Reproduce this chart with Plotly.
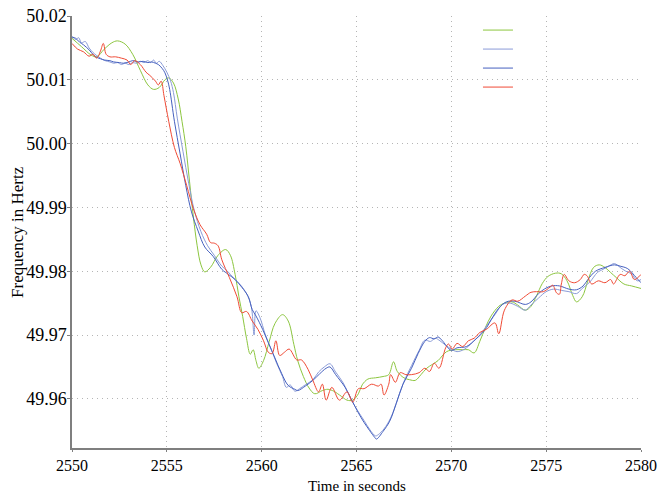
import plotly.graph_objects as go

# ---- data ----
green_t = [2550.0, 2550.5, 2551.0, 2551.3, 2551.7, 2552.1, 2552.4, 2552.8, 2553.2, 2553.6, 2554.0, 2554.3,
           2554.6, 2554.9, 2555.1, 2555.35, 2555.6, 2555.8, 2556.0, 2556.2, 2556.4, 2556.6, 2556.8, 2557.0,
           2557.3, 2557.7, 2558.1, 2558.35, 2558.6, 2558.8, 2559.0, 2559.2, 2559.4, 2559.55, 2559.7, 2559.85,
           2560.1, 2560.4, 2560.7, 2561.1, 2561.4, 2561.7, 2561.9, 2562.2, 2562.5, 2562.8, 2563.2, 2563.5,
           2563.8, 2564.2, 2564.5, 2564.8, 2565.1, 2565.3, 2565.6, 2566.0, 2566.4, 2566.7, 2566.95, 2567.15,
           2567.5, 2567.8, 2568.1, 2568.4, 2568.7, 2569.0, 2569.3, 2569.75, 2570.2, 2570.6, 2570.9, 2571.2,
           2571.5, 2571.8, 2572.1, 2572.5, 2572.8, 2573.2, 2573.5, 2573.9, 2574.2, 2574.5, 2574.8, 2575.1,
           2575.5, 2575.8, 2576.1, 2576.4, 2576.6, 2576.9, 2577.2, 2577.5, 2577.8, 2578.1, 2578.4, 2578.7,
           2579.1, 2579.5, 2580.0]
green_f = [50.0165, 50.0152, 50.0139, 50.0136, 50.0148, 50.0158, 50.0161, 50.0156, 50.0140, 50.0115, 50.0092, 50.0085,
           50.0088, 50.0100, 50.0103, 50.0095, 50.0070, 50.0035, 49.9995, 49.9940, 49.9885, 49.9840, 49.9810, 49.9799,
           49.9806, 49.9825, 49.9834, 49.9825, 49.9795, 49.9760, 49.9729, 49.9695, 49.9670, 49.9677, 49.9660, 49.9648,
           49.9660, 49.9690, 49.9718, 49.9732, 49.9722, 49.9685, 49.9660, 49.9635, 49.9617, 49.9608, 49.9613, 49.9615,
           49.9612, 49.9604, 49.9598, 49.9598, 49.9608, 49.9622, 49.9631, 49.9633, 49.9635, 49.9638, 49.9658, 49.9643,
           49.9633, 49.9630, 49.9629, 49.9638, 49.9648, 49.9654, 49.9660, 49.9674, 49.9677, 49.9677, 49.9677, 49.9672,
           49.9690, 49.9712, 49.9730, 49.9745, 49.9750, 49.9752, 49.9747, 49.9739, 49.9745, 49.9762, 49.9781, 49.9792,
           49.9797, 49.9796, 49.9785, 49.9762, 49.9752, 49.9760, 49.9785, 49.9806, 49.9810, 49.9806, 49.9798, 49.9790,
           49.9780, 49.9777, 49.9773]

red_t = [2550.0, 2550.3, 2550.6, 2550.9, 2551.1, 2551.3, 2551.5, 2551.65, 2551.8, 2552.0, 2552.3, 2552.6,
         2552.9, 2553.1, 2553.3, 2553.6, 2553.9, 2554.1, 2554.4, 2554.55, 2554.7, 2554.85, 2555.1, 2555.4,
         2555.7, 2556.05, 2556.4, 2556.75, 2557.1, 2557.3, 2557.5, 2557.7, 2557.9, 2558.3, 2558.7, 2558.95,
         2559.2, 2559.5, 2559.8, 2560.1, 2560.35, 2560.55, 2560.75, 2560.95, 2561.2, 2561.45, 2561.85, 2562.1,
         2562.45, 2562.7, 2563.0, 2563.2, 2563.4, 2563.7, 2564.1, 2564.5, 2564.8, 2565.1, 2565.4, 2565.8,
         2566.15, 2566.3, 2566.45, 2566.7, 2566.8, 2567.05, 2567.3, 2567.6, 2567.9, 2568.3, 2568.6, 2568.85,
         2569.1, 2569.35, 2569.7, 2569.85, 2570.05, 2570.3, 2570.6, 2570.9, 2571.2, 2571.5, 2571.85, 2572.3,
         2572.5, 2572.8, 2573.2, 2573.5, 2573.9, 2574.2, 2574.5, 2574.85, 2575.2, 2575.35, 2575.55, 2575.7,
         2575.8, 2575.95, 2576.2, 2576.5, 2576.8, 2577.0, 2577.15, 2577.4, 2577.75, 2578.1, 2578.4, 2578.55,
         2578.9, 2579.15, 2579.4, 2579.65, 2580.0]
red_f = [50.0157, 50.0148, 50.0144, 50.0137, 50.0140, 50.0134, 50.0145, 50.0157, 50.0140, 50.0136, 50.0136, 50.0134,
         50.0131, 50.0124, 50.0130, 50.0124, 50.0112, 50.0107, 50.0098, 50.0092, 50.0098, 50.0075, 50.0035, 49.9994,
         49.9969, 49.9934, 49.9898, 49.9873, 49.9858, 49.9845, 49.9844, 49.9840, 49.9818, 49.9790, 49.9760, 49.9735,
         49.9737, 49.9722, 49.9709, 49.9691, 49.9673, 49.9671, 49.9691, 49.9668, 49.9673, 49.9678, 49.9661, 49.9661,
         49.9646, 49.9629, 49.9611, 49.9623, 49.9598, 49.9618, 49.9598, 49.9611, 49.9595, 49.9616, 49.9616, 49.9623,
         49.9620, 49.9623, 49.9606, 49.9623, 49.9638, 49.9626, 49.9641, 49.9638, 49.9638, 49.9641, 49.9648, 49.9643,
         49.9656, 49.9648, 49.9680, 49.9686, 49.9678, 49.9687, 49.9682, 49.9691, 49.9695, 49.9704, 49.9709, 49.9719,
         49.9702, 49.9739, 49.9755, 49.9753, 49.9761, 49.9767, 49.9768, 49.9768, 49.9775, 49.9778, 49.9766, 49.9764,
         49.9780, 49.9795, 49.9785, 49.9782, 49.9787, 49.9795, 49.9793, 49.9780, 49.9785, 49.9782, 49.9787, 49.9780,
         49.9795, 49.9793, 49.9800, 49.9787, 49.9795]

blue_a_t = [2550.0, 2550.2, 2550.4, 2550.6, 2550.9, 2551.1, 2551.25, 2551.5, 2551.7, 2552.0, 2552.2, 2552.5,
            2552.7, 2553.0, 2553.2, 2553.5, 2553.75, 2554.0, 2554.2, 2554.4, 2554.55, 2554.75, 2554.9, 2555.05,
            2555.15, 2555.4, 2555.7, 2556.0, 2556.3, 2556.65, 2557.0, 2557.45, 2557.9, 2558.25, 2558.6, 2558.95,
            2559.3, 2559.5, 2559.7, 2560.05, 2560.35, 2560.7, 2561.05, 2561.4, 2561.75, 2561.9, 2562.3, 2562.7,
            2563.05, 2563.4, 2563.6, 2563.9, 2564.4, 2564.75, 2565.1, 2565.4, 2565.7, 2565.95, 2566.05, 2566.4,
            2566.75, 2567.1, 2567.45, 2567.9, 2568.25, 2568.6, 2568.85, 2569.1, 2569.3, 2569.5, 2570.0, 2570.3,
            2570.8, 2571.3, 2571.75, 2572.2, 2572.5, 2572.9, 2573.35, 2573.9, 2574.2, 2574.6, 2574.9, 2575.3,
            2575.7, 2576.2, 2576.6, 2576.95, 2577.2, 2577.6, 2578.1, 2578.6, 2578.9, 2579.3, 2579.75, 2580.0]
blue_a_f = [50.0167, 50.0165, 50.0159, 50.0155, 50.0147, 50.0140, 50.0136, 50.0133, 50.0131, 50.0130, 50.0128, 50.0127,
            50.0126, 50.0128, 50.0130, 50.0128, 50.0129, 50.0127, 50.0128, 50.0126, 50.0124, 50.0118, 50.0111, 50.0098,
            50.0085, 50.0035, 49.9984, 49.9934, 49.9893, 49.9863, 49.9838, 49.9823, 49.9803, 49.9795, 49.9787, 49.9775,
            49.9760, 49.9740, 49.9730, 49.9709, 49.9688, 49.9664, 49.9640, 49.9621, 49.9615, 49.9613, 49.9620, 49.9629,
            49.9639, 49.9648, 49.9650, 49.9638, 49.9618, 49.9598, 49.9578, 49.9563, 49.9550, 49.9540, 49.9537, 49.9549,
            49.9565, 49.9593, 49.9623, 49.9648, 49.9671, 49.9690, 49.9696, 49.9694, 49.9697, 49.9692, 49.9676, 49.9680,
            49.9682, 49.9694, 49.9707, 49.9729, 49.9742, 49.9752, 49.9753, 49.9748, 49.9752, 49.9765, 49.9772, 49.9777,
            49.9777, 49.9772, 49.9771, 49.9777, 49.9787, 49.9800, 49.9806, 49.9810, 49.9808, 49.9804, 49.9790, 49.9782]

blue_b_t = [2550.0, 2550.2, 2550.35, 2550.5, 2550.7, 2550.9, 2551.1, 2551.3, 2551.5, 2551.75, 2552.0, 2552.2,
            2552.4, 2552.6, 2552.8, 2553.0, 2553.2, 2553.4, 2553.6, 2553.8, 2554.0, 2554.15, 2554.3, 2554.45,
            2554.6, 2554.8, 2555.0, 2555.2, 2555.35, 2555.55, 2555.85, 2556.15, 2556.45, 2556.8, 2557.15, 2557.5,
            2557.9, 2558.2, 2558.5, 2558.9, 2559.2, 2559.45, 2559.6, 2559.7, 2559.9, 2560.2, 2560.5, 2560.8,
            2561.1, 2561.3, 2561.5, 2561.75, 2562.0, 2562.3, 2562.7, 2563.0, 2563.3, 2563.6, 2563.9, 2564.3,
            2564.7, 2565.05, 2565.4, 2565.7, 2566.0, 2566.15, 2566.45, 2566.8, 2567.15, 2567.5, 2567.9, 2568.3,
            2568.6, 2568.9, 2569.15, 2569.4, 2569.7, 2570.0, 2570.3, 2570.7, 2571.1, 2571.5, 2571.9, 2572.3,
            2572.7, 2573.1, 2573.5, 2573.9, 2574.2, 2574.6, 2575.0, 2575.4, 2575.8, 2576.2, 2576.6, 2576.9,
            2577.3, 2577.7, 2578.0, 2578.3, 2578.6, 2578.9, 2579.2, 2579.5, 2579.8, 2580.0]
blue_b_f = [50.0168, 50.0163, 50.0166, 50.0158, 50.0160, 50.0150, 50.0143, 50.0138, 50.0134, 50.0130, 50.0128, 50.0126,
            50.0127, 50.0124, 50.0126, 50.0124, 50.0127, 50.0126, 50.0129, 50.0127, 50.0130, 50.0127, 50.0131, 50.0126,
            50.0129, 50.0122, 50.0112, 50.0098, 50.0080, 50.0040, 49.9988, 49.9938, 49.9895, 49.9862, 49.9840, 49.9825,
            49.9808, 49.9800, 49.9790, 49.9778, 49.9765, 49.9745, 49.9700, 49.9738, 49.9728, 49.9700, 49.9678, 49.9655,
            49.9635, 49.9618, 49.9622, 49.9612, 49.9616, 49.9622, 49.9630, 49.9642, 49.9650, 49.9655, 49.9642, 49.9625,
            49.9600, 49.9582, 49.9566, 49.9552, 49.9542, 49.9544, 49.9553, 49.9570, 49.9598, 49.9627, 49.9652, 49.9676,
            49.9692, 49.9690, 49.9695, 49.9691, 49.9684, 49.9678, 49.9674, 49.9678, 49.9688, 49.9700, 49.9716, 49.9732,
            49.9748, 49.9750, 49.9745, 49.9739, 49.9747, 49.9758, 49.9768, 49.9772, 49.9770, 49.9768, 49.9765, 49.9773,
            49.9783, 49.9798, 49.9803, 49.9808, 49.9812, 49.9806, 49.9800, 49.9796, 49.9785, 49.9787]

x_ticks = [2550, 2555, 2560, 2565, 2570, 2575, 2580]
y_ticks = [49.96, 49.97, 49.98, 49.99, 50.00, 50.01, 50.02]
x_title = "Time in seconds"
y_title = "Frequency in Hertz"

series = [
    (green_t, green_f, "#8cc63f"),
    (blue_b_t, blue_b_f, "#8a9bd8"),
    (blue_a_t, blue_a_f, "#4560bf"),
    (red_t, red_f, "#f04a35"),
]

fig = go.Figure()
for t, f, c in series:
    fig.add_trace(go.Scatter(x=t, y=f, mode="lines", name=" ",
                             line=dict(color=c, width=1, shape="spline", smoothing=1.0)))

FONT = "Liberation Serif"
GRID = dict(showgrid=True, gridcolor="#b5b5b5", griddash="1px,4px", gridwidth=1)
fig.update_layout(
    width=659, height=496,
    margin=dict(l=72, r=18, t=16, b=48),
    paper_bgcolor="white", plot_bgcolor="white",
    font=dict(family=FONT, size=17, color="black"),
    showlegend=True,
    legend=dict(x=0.7135, y=1.001, xanchor="left", yanchor="top",
                bgcolor="rgba(0,0,0,0)", borderwidth=0,
                font=dict(size=6), tracegroupgap=0),
    annotations=[
        dict(text=x_title, xref="paper", yref="paper", x=0.5, y=-0.1111,
             xanchor="center", yanchor="bottom", showarrow=False,
             font=dict(family=FONT, size=15, color="black")),
        dict(text=y_title, xref="paper", yref="paper", x=-0.0967, y=0.5,
             xanchor="center", yanchor="middle", textangle=-90, showarrow=False,
             font=dict(family=FONT, size=17, color="black")),
    ],
)
fig.update_xaxes(
    range=[2550, 2580], tickvals=x_ticks, ticktext=[str(v) for v in x_ticks],
    showline=True, linecolor="#7f7f7f", linewidth=1.5, mirror=False,
    ticks="outside", ticklen=2, tickcolor="#7f7f7f",
    tickfont=dict(size=16),
    zeroline=False, automargin=False,
    **GRID,
)
fig.update_yaxes(
    range=[49.9523, 50.02], tickvals=y_ticks, ticktext=["%.2f" % v for v in y_ticks],
    showline=True, linecolor="#7f7f7f", linewidth=1.5, mirror=False,
    ticks="outside", ticklen=3, tickcolor="#7f7f7f", ticklabelstandoff=-3,
    tickfont=dict(size=18),
    zeroline=False, automargin=False,
    **GRID,
)

fig.write_html("out.html")
